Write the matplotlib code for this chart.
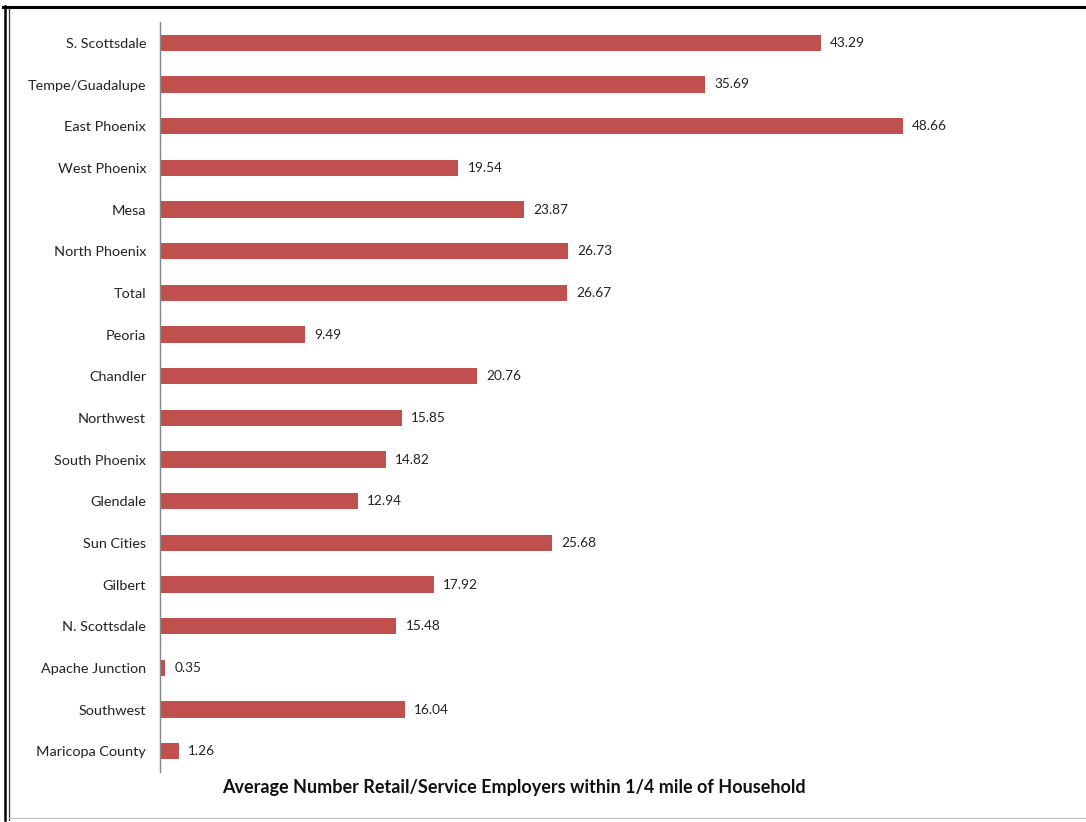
import matplotlib.pyplot as plt
from matplotlib.lines import Line2D

areas = ["S. Scottsdale", "Tempe/Guadalupe", "East Phoenix", "West Phoenix", "Mesa",
         "North Phoenix", "Total", "Peoria", "Chandler", "Northwest", "South Phoenix",
         "Glendale", "Sun Cities", "Gilbert", "N. Scottsdale", "Apache Junction",
         "Southwest", "Maricopa County"]
employers = [43.29, 35.69, 48.66, 19.54, 23.87, 26.73, 26.67, 9.49, 20.76, 15.85,
             14.82, 12.94, 25.68, 17.92, 15.48, 0.35, 16.04, 1.26]

plt.rcParams['font.family'] = ['Lato', 'DejaVu Sans']

W, H = 1086, 822
fig = plt.figure(figsize=(W / 100, H / 100), dpi=100)
ax = fig.add_axes([160 / W, (H - 772) / H, 916 / W, 750 / H])

y = list(range(len(areas)))
ax.barh(y, employers, height=0.39, color='#C0504D')
for yi, v in zip(y, employers):
    ax.text(v + 0.6, yi, f"{v:.2f}", va='center', ha='left', fontsize=9.8, color='#222222')

ax.set_yticks(y)
ax.set_yticklabels(areas, fontsize=10.4, color='#222222')
ax.set_ylim(len(areas) - 0.5, -0.5)
ax.set_xlim(0, 60)
ax.set_xticks([])
ax.tick_params(axis='y', length=0, pad=10)
for s in ['top', 'right', 'bottom']:
    ax.spines[s].set_visible(False)
ax.spines['left'].set_color('#888888')
ax.spines['left'].set_linewidth(1)

fig.text(514 / W, 1 - 787 / H, "Average Number Retail/Service Employers within 1/4 mile of Household",
         ha='center', va='center', fontsize=13, fontweight='bold', color='#111111')

# frame around the picture
fig.add_artist(Line2D([3 / W, 1], [1 - 7 / H, 1 - 7 / H], color='black', lw=2.2, transform=fig.transFigure))
fig.add_artist(Line2D([5 / W, 5 / W], [1 - 6 / H, 2 / H], color='black', lw=1.8, transform=fig.transFigure))
fig.add_artist(Line2D([9 / W, 9 / W], [1 - 8 / H, 2 / H], color='#333333', lw=0.9, transform=fig.transFigure))
fig.add_artist(Line2D([9 / W, 1], [4 / H, 4 / H], color='#bbbbbb', lw=0.8, transform=fig.transFigure))

plt.savefig("out.png", dpi=100)
plt.close()
